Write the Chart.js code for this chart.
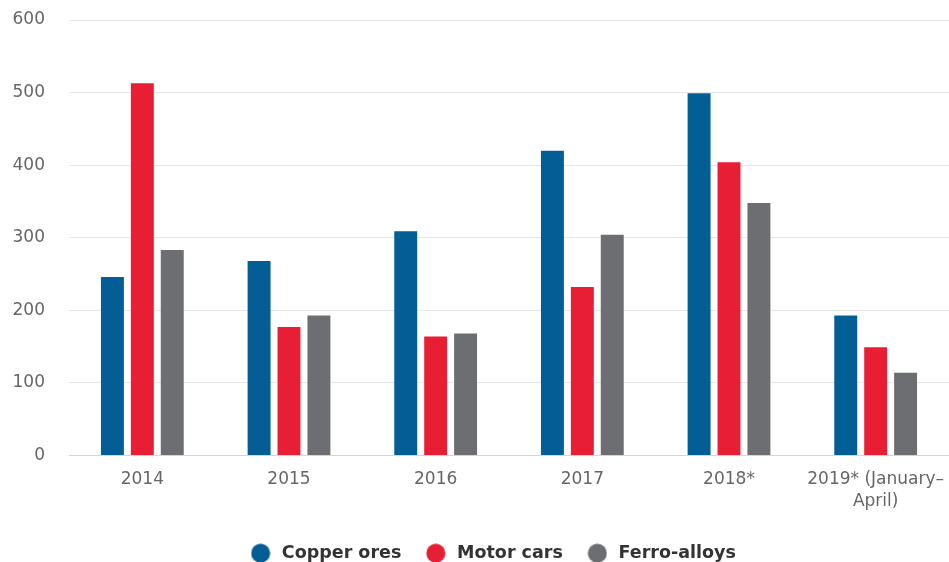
<!DOCTYPE html>
<html>
<head>
<meta charset="utf-8">
<script src="https://cdn.jsdelivr.net/npm/chart.js@4/dist/chart.umd.min.js"></script>
<style>
  html, body { margin: 0; padding: 0; background: #fff; }
  #wrap { width: 949px; height: 562px; position: relative; }
</style>
</head>
<body>
<div id="wrap"><canvas id="grafico"></canvas></div>
<script>
// datos
const years = ['2014', '2015', '2016', '2017', '2018*', ['2019* (January\u2013', 'April)']];
const copperOres = [246, 268, 309, 420, 499, 193];
const motorCars = [513, 177, 164, 232, 404, 149];
const ferroAlloys = [283, 193, 168, 304, 348, 114];
const yTicks = [0, 100, 200, 300, 400, 500, 600];

Chart.defaults.font.family = 'DejaVu Sans';

// circulo de leyenda como imagen (asi el texto queda mas separado)
function circulo(color) {
    const c = document.createElement('canvas');
    c.width = 20; c.height = 20;
    const g = c.getContext('2d');
    g.fillStyle = color;
    g.beginPath(); g.arc(10, 10, 9.5, 0, Math.PI * 2); g.fill();
    return c;
}

// mueve la leyenda un poco a la derecha, como en el original
const moverLeyenda = {
    id: 'moverLeyenda',
    afterLayout(chart) {
        if (chart.legend) { chart.legend.left += 12; chart.legend.right += 12; }
    }
};

const ctx = document.getElementById('grafico').getContext('2d');
new Chart(ctx, {
    type: 'bar',
    data: {
        labels: years,
        datasets: [
            { label: 'Copper ores', data: copperOres, backgroundColor: '#035e95' },
            { label: 'Motor cars', data: motorCars, backgroundColor: '#e81e35' },
            { label: 'Ferro-alloys', data: ferroAlloys, backgroundColor: '#6d6e71' }
        ]
    },
    plugins: [moverLeyenda],
    options: {
        responsive: true, maintainAspectRatio: false, animation: false,
        categoryPercentage: 0.612, barPercentage: 0.767,
        layout: { padding: { left: 8, right: -3, top: 20, bottom: -10 } },
        plugins: {
            tooltip: { enabled: false },
            legend: {
                position: 'bottom',
                labels: {
                    usePointStyle: true, pointStyleWidth: 25, boxHeight: 13,
                    padding: 22, color: '#333',
                    font: { size: 17.5, weight: 'bold' },
                    generateLabels: chart => {
                        const items = Chart.defaults.plugins.legend.labels.generateLabels(chart);
                        items.forEach(it => { it.pointStyle = circulo(it.fillStyle); });
                        return items;
                    }
                }
            }
        },
        scales: {
            x: {
                grid: { display: false },
                border: { color: '#ccd6eb', width: 1 },
                afterFit: axis => { axis.height = 67; axis.paddingLeft = 0; axis.paddingRight = 0; },
                ticks: { color: '#666', padding: 5, font: { size: 17, lineHeight: 1.3 }, maxRotation: 0 }
            },
            y: {
                min: 0, max: 600,
                afterBuildTicks: axis => { axis.ticks = yTicks.map(v => ({ value: v })); },
                afterFit: axis => { axis.width = 61; axis.paddingTop = 0; },
                grid: { color: '#e6e6e6', drawTicks: false },
                border: { display: false },
                ticks: { color: '#666', padding: 24, font: { size: 17 } }
            }
        }
    }
});
</script>
</body>
</html>
